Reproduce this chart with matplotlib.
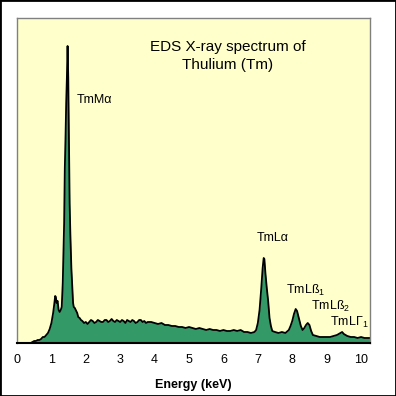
import matplotlib
matplotlib.use("Agg")
import matplotlib.pyplot as plt
from matplotlib.patches import Rectangle

plt.rcParams['font.family'] = ['Liberation Sans', 'DejaVu Sans']
plt.rcParams['mathtext.fontset'] = 'custom'
plt.rcParams['mathtext.rm'] = 'Liberation Sans'

# spectrum (energy in keV, counts in arbitrary units)
energy = [0.00, 0.40, 0.45, 0.50, 0.55, 0.60, 0.65, 0.70, 0.75, 0.80, 0.85, 0.90,
          0.95, 1.00, 1.05, 1.08, 1.11, 1.13, 1.15, 1.18, 1.21, 1.24, 1.27, 1.30,
          1.33, 1.35, 1.37, 1.39, 1.41, 1.43, 1.45, 1.47, 1.49, 1.51, 1.53, 1.55,
          1.58, 1.61, 1.63, 1.65, 1.68, 1.72, 1.75, 1.78, 1.82, 1.86, 1.90,
          1.95, 2.0, 2.05, 2.1, 2.15, 2.2, 2.25, 2.3, 2.35, 2.4, 2.45, 2.5, 2.55,
          2.6, 2.65, 2.7, 2.75, 2.8, 2.85, 2.9, 2.95, 3.0, 3.05, 3.1, 3.15, 3.2,
          3.25, 3.3, 3.35, 3.4, 3.45, 3.5, 3.55, 3.6, 3.65, 3.7, 3.75, 3.8,
          3.9, 4.0, 4.1, 4.2, 4.3, 4.4, 4.5, 4.6, 4.7,
          4.8, 4.9, 5.0, 5.1, 5.2, 5.3, 5.4, 5.5, 5.6, 5.7, 5.8, 5.9, 6.0, 6.1,
          6.2, 6.3, 6.4, 6.5, 6.6, 6.7, 6.8, 6.9, 6.95, 7.00, 7.05, 7.10, 7.14,
          7.17, 7.19, 7.22, 7.26, 7.30, 7.34, 7.38, 7.42, 7.5, 7.6, 7.7, 7.8,
          7.9, 7.95, 8.00, 8.05, 8.10, 8.14, 8.20, 8.25, 8.30, 8.35, 8.40, 8.45,
          8.50, 8.55, 8.6, 8.7, 8.8, 8.9, 9.0, 9.1, 9.2, 9.3, 9.4, 9.45, 9.5,
          9.6, 9.7, 9.8, 9.9, 10.0, 10.1, 10.2, 10.26]
counts = [0, 0, 1, 2, 2, 3, 3, 4, 6, 6, 8, 10,
          14, 20, 30, 38, 47, 46, 40, 42, 33, 31, 33, 36,
          60, 90, 120, 175, 205, 240, 265, 297, 265, 200, 140, 110,
          75, 55, 40, 36, 35, 32, 30, 26, 25, 23, 22,
          20, 21, 19, 21, 23, 22, 20, 21, 23, 22, 21, 21, 23,
          23, 21, 22, 24, 22, 21, 23, 22, 21, 23, 22, 20, 23,
          22, 21, 23, 22, 20, 21, 23, 23, 21, 22, 20, 21,
          21, 20, 19, 20, 18, 18, 17, 17, 16,
          16, 15, 16, 15, 14, 15, 14, 13, 14, 13, 13, 12, 13, 12,
          12, 13, 12, 13, 11, 11, 10, 11, 13, 20, 33, 55, 75,
          85, 84, 70, 55, 42, 25, 17, 12, 11, 10, 11, 10,
          13, 17, 22, 29, 34, 32, 24, 17, 13, 15, 18, 20,
          18, 12, 8, 7, 6, 6, 6, 6, 7, 8, 10, 11, 9,
          7, 6, 6, 5, 6, 5, 5, 5]

peak_labels = ["TmM\u03b1", "TmL\u03b1", "TmL\u00df$_\\mathrm{1}$",
               "TmL\u00df$_\\mathrm{2}$", "TmL\u0393$_\\mathrm{1}$"]
peak_pos = [(1.74, 243), (6.97, 105), (7.82, 53), (8.55, 37), (9.10, 21)]

fig = plt.figure(figsize=(3.96, 3.96), dpi=100)
fig.patch.set_facecolor('white')
fig.patches.append(Rectangle((0, 0), 1, 1, transform=fig.transFigure,
                             fill=False, edgecolor='black', linewidth=2))

ax = fig.add_axes([17/396, 53/396, 353/396, 325/396])
ax.set_facecolor('#FFFFCC')
ax.fill_between(energy, counts, 0, color='#339966', linewidth=0)
ax.plot(energy, counts, color='black', linewidth=1.3)

ax.set_xlim(0, 10.26)
ax.set_ylim(0, 325)
ax.set_xticks(range(0, 11))
ax.set_yticks([])
ax.tick_params(axis='x', length=0, pad=8, labelsize=9)
ax.set_xlabel("Energy (keV)", fontsize=9, fontweight='bold', labelpad=9)

for side in ['left', 'top', 'right']:
    ax.spines[side].set_color('#808080')
    ax.spines[side].set_linewidth(1)
ax.spines['bottom'].set_color('black')
ax.spines['bottom'].set_linewidth(1.5)

ax.text(6.13, 296, "EDS X-ray spectrum of", ha='center', va='center', fontsize=11)
ax.text(6.13, 278.5, "Thulium (Tm)", ha='center', va='center', fontsize=11)

for lab, (px, py) in zip(peak_labels, peak_pos):
    ax.text(px, py, lab, ha='left', va='center', fontsize=9)

fig.savefig("out.png", dpi=100)
